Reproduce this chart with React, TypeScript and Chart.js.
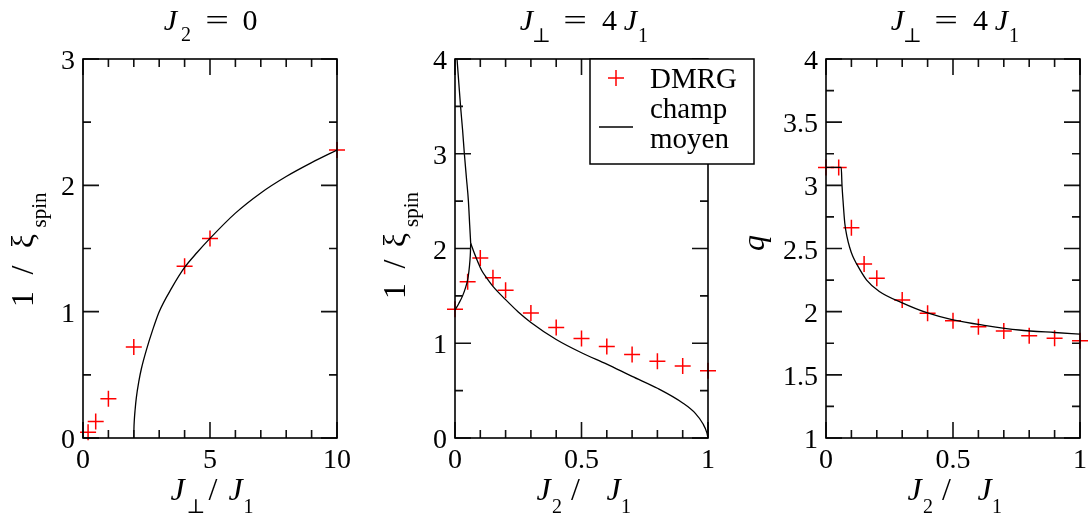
import React, { useEffect, useRef } from 'react';
import { Chart, registerables } from 'chart.js';

Chart.register(...registerables);

const SERIF = '"Liberation Serif", "DejaVu Serif", serif';

// ---------- Panel 1 : J2 = 0, 1/xi_spin vs J_perp/J1 ----------
const p1XTicks = [0, 5, 10];
const p1YTicks = [0, 1, 2, 3];
const p1DmrgX = [0.2, 0.5, 1, 2, 4, 5, 10];
const p1DmrgY = [0.045, 0.13, 0.31, 0.72, 1.36, 1.58, 2.28];
const p1MfX = [2, 2.005, 2.02, 2.05, 2.1, 2.2, 2.3, 2.5, 2.75, 3, 3.5, 4, 4.5, 5, 6, 7, 8, 9, 10];
const p1MfY = [0, 0.07, 0.14, 0.22, 0.32, 0.45, 0.55, 0.7, 0.86, 1.0, 1.19, 1.35, 1.47, 1.58, 1.78, 1.94, 2.07, 2.18, 2.28];

// ---------- Panel 2 : J_perp = 4 J1, 1/xi_spin vs J2/J1 ----------
const p2XTicks = [0, 0.5, 1];
const p2YTicks = [0, 1, 2, 3, 4];
const p2DmrgX = [0, 0.05, 0.1, 0.15, 0.2, 0.3, 0.4, 0.5, 0.6, 0.7, 0.8, 0.9, 1];
const p2DmrgY = [1.36, 1.65, 1.9, 1.69, 1.56, 1.32, 1.165, 1.05, 0.965, 0.88, 0.81, 0.76, 0.71];
const p2MfUpperX = [0.008, 0.015, 0.022, 0.03, 0.037, 0.045, 0.053, 0.058, 0.062];
const p2MfUpperY = [4, 3.75, 3.5, 3.25, 3.0, 2.75, 2.5, 2.25, 2.055];
const p2MfLeftX = [0, 0.015, 0.03, 0.042, 0.05, 0.055, 0.059, 0.061, 0.062];
const p2MfLeftY = [1.35, 1.42, 1.5, 1.59, 1.67, 1.76, 1.87, 1.96, 2.055];
const p2MfRightX = [0.062, 0.075, 0.09, 0.105, 0.125, 0.15, 0.2, 0.25, 0.3, 0.4, 0.5, 0.6, 0.7, 0.8, 0.9, 0.95, 0.98, 0.995, 1];
const p2MfRightY = [2.055, 1.96, 1.86, 1.77, 1.69, 1.6, 1.46, 1.33, 1.22, 1.04, 0.9, 0.78, 0.65, 0.525, 0.37, 0.26, 0.15, 0.06, 0];

// ---------- Panel 3 : J_perp = 4 J1, q vs J2/J1 ----------
const p3XTicks = [0, 0.5, 1];
const p3YTicks = [1, 1.5, 2, 2.5, 3, 3.5, 4];
const p3DmrgX = [0, 0.05, 0.1, 0.15, 0.2, 0.3, 0.4, 0.5, 0.6, 0.7, 0.8, 0.9, 1];
const p3DmrgY = [3.1416, 3.1416, 2.665, 2.377, 2.264, 2.092, 1.987, 1.929, 1.881, 1.847, 1.81, 1.789, 1.77];
const p3MfX = [0, 0.06, 0.063, 0.067, 0.074, 0.083, 0.093, 0.105, 0.12, 0.16, 0.21, 0.3, 0.4, 0.5, 0.63, 0.76, 0.9, 1];
const p3MfY = [3.1416, 3.1416, 3.0, 2.88, 2.7, 2.59, 2.51, 2.44, 2.38, 2.25, 2.16, 2.07, 1.99, 1.935, 1.89, 1.855, 1.835, 1.823];

const legendLabels = ['DMRG', 'champ', 'moyen'];

type Part = { t: string; x: number; y: number; size: number; it?: boolean; rot?: boolean; sx?: number };

type PanelCfg = {
  left: number; width: number; plotL: number; plotR: number;
  xMin: number; xMax: number; yMin: number; yMax: number;
  xTicks: number[]; yTicks: number[]; xMinor: number; yMinor: number;
  dmrgX: number[]; dmrgY: number[]; mf: [number[], number[]][];
  texts: Part[]; legend?: boolean;
};

const TOP = 59;
const BOTTOM = 438;
const H = 519;
const TS = 30; // title size
const AS = 32; // axis label size
const SS = 20; // subscript size
const TICK = 28; // tick label size

const panels: PanelCfg[] = [
  {
    left: 0, width: 355, plotL: 83, plotR: 337,
    xMin: 0, xMax: 10, yMin: 0, yMax: 3, xTicks: p1XTicks, yTicks: p1YTicks, xMinor: 1, yMinor: 0.5,
    dmrgX: p1DmrgX, dmrgY: p1DmrgY, mf: [[p1MfX, p1MfY]],
    texts: [
      { t: 'J', x: 170.5, y: 30, size: TS, it: true },
      { t: '2', x: 186, y: 41, size: SS },
      { t: '=', x: 217, y: 30, size: TS, sx: 1.4 },
      { t: '0', x: 250, y: 30, size: TS },
      { t: 'J', x: 177.5, y: 500, size: AS, it: true },
      { t: '⊥', x: 196, y: 513, size: SS },
      { t: '/', x: 213, y: 500, size: AS },
      { t: 'J', x: 235.5, y: 500, size: AS, it: true },
      { t: '1', x: 248.5, y: 513, size: SS },
      { t: '1', x: 33, y: 299, size: AS, rot: true },
      { t: '/', x: 33, y: 270, size: AS, rot: true },
      { t: 'ξ', x: 33, y: 241, size: AS, rot: true },
      { t: 'spin', x: 46, y: 210, size: 21, rot: true },
    ],
  },
  {
    left: 355, width: 405, plotL: 455, plotR: 708,
    xMin: 0, xMax: 1, yMin: 0, yMax: 4, xTicks: p2XTicks, yTicks: p2YTicks, xMinor: 0.1, yMinor: 0.5,
    dmrgX: p2DmrgX, dmrgY: p2DmrgY,
    mf: [[p2MfUpperX, p2MfUpperY], [p2MfLeftX, p2MfLeftY], [p2MfRightX, p2MfRightY]],
    legend: true,
    texts: [
      { t: 'J', x: 526.5, y: 30, size: TS, it: true },
      { t: '⊥', x: 541.5, y: 42, size: SS },
      { t: '=', x: 575, y: 30, size: TS, sx: 1.4 },
      { t: '4', x: 609.5, y: 30, size: TS },
      { t: 'J', x: 630.5, y: 30, size: TS, it: true },
      { t: '1', x: 643, y: 42, size: SS },
      { t: 'J', x: 543.5, y: 500, size: AS, it: true },
      { t: '2', x: 557, y: 513, size: SS },
      { t: '/', x: 575.5, y: 500, size: AS },
      { t: 'J', x: 613.5, y: 500, size: AS, it: true },
      { t: '1', x: 626, y: 513, size: SS },
      { t: '1', x: 405, y: 291, size: AS, rot: true },
      { t: '/', x: 405, y: 264, size: AS, rot: true },
      { t: 'ξ', x: 405, y: 240, size: AS, rot: true },
      { t: 'spin', x: 418, y: 209.5, size: 21, rot: true },
    ],
  },
  {
    left: 740, width: 351, plotL: 826, plotR: 1080,
    xMin: 0, xMax: 1, yMin: 1, yMax: 4, xTicks: p3XTicks, yTicks: p3YTicks, xMinor: 0.1, yMinor: 0.25,
    dmrgX: p3DmrgX, dmrgY: p3DmrgY, mf: [[p3MfX, p3MfY]],
    texts: [
      { t: 'J', x: 897.5, y: 30, size: TS, it: true },
      { t: '⊥', x: 912.5, y: 42, size: SS },
      { t: '=', x: 946, y: 30, size: TS, sx: 1.4 },
      { t: '4', x: 980.5, y: 30, size: TS },
      { t: 'J', x: 1001.5, y: 30, size: TS, it: true },
      { t: '1', x: 1014, y: 42, size: SS },
      { t: 'J', x: 914.5, y: 500, size: AS, it: true },
      { t: '2', x: 928, y: 513, size: SS },
      { t: '/', x: 946.5, y: 500, size: AS },
      { t: 'J', x: 984.5, y: 500, size: AS, it: true },
      { t: '1', x: 997, y: 513, size: SS },
      { t: 'q', x: 764, y: 243, size: AS, it: true, rot: true },
    ],
  },
];

function fmt(v: number): string {
  return String(Math.round(v * 1000) / 1000);
}

function decorPlugin(c: PanelCfg) {
  return {
    id: 'decor',
    afterDraw(chart: any) {
      const { ctx, chartArea: a, scales } = chart;
      const xs = scales.x;
      const ys = scales.y;
      ctx.save();
      ctx.strokeStyle = '#111';
      ctx.lineWidth = 1.6;
      ctx.beginPath();
      const nx = Math.round((c.xMax - c.xMin) / c.xMinor);
      for (let i = 0; i <= nx; i++) {
        const v = c.xMin + i * c.xMinor;
        const major = c.xTicks.some((t) => Math.abs(t - v) < 1e-6);
        const L = major ? 16 : 8;
        const px = xs.getPixelForValue(v);
        ctx.moveTo(px, a.bottom); ctx.lineTo(px, a.bottom - L);
        ctx.moveTo(px, a.top); ctx.lineTo(px, a.top + L);
      }
      const ny = Math.round((c.yMax - c.yMin) / c.yMinor);
      for (let i = 0; i <= ny; i++) {
        const v = c.yMin + i * c.yMinor;
        const major = c.yTicks.some((t) => Math.abs(t - v) < 1e-6);
        const L = major ? 16 : 8;
        const py = ys.getPixelForValue(v);
        ctx.moveTo(a.left, py); ctx.lineTo(a.left + L, py);
        ctx.moveTo(a.right, py); ctx.lineTo(a.right - L, py);
      }
      ctx.stroke();
      ctx.strokeStyle = '#000';
      ctx.strokeRect(a.left, a.top, a.right - a.left, a.bottom - a.top);

      // tick labels from the library's scales
      ctx.fillStyle = '#000';
      ctx.font = `${TICK}px ${SERIF}`;
      ctx.textBaseline = 'alphabetic';
      ctx.textAlign = 'center';
      for (const t of xs.ticks) {
        ctx.fillText(fmt(t.value), xs.getPixelForValue(t.value), a.bottom + 30);
      }
      ctx.textAlign = 'right';
      for (const t of ys.ticks) {
        ctx.fillText(fmt(t.value), a.left - 8, ys.getPixelForValue(t.value) + 10);
      }

      const off = c.left;
      if (c.legend) {
        const bx = 590 - off, by = 59, bw = 164, bh = 105;
        ctx.fillStyle = '#fff';
        ctx.fillRect(bx, by, bw, bh);
        ctx.strokeStyle = '#000';
        ctx.lineWidth = 1.5;
        ctx.strokeRect(bx, by, bw, bh);
        ctx.strokeStyle = '#ff0000';
        ctx.beginPath();
        const cx = 616 - off, cy = 78;
        ctx.moveTo(cx - 8, cy); ctx.lineTo(cx + 8, cy);
        ctx.moveTo(cx, cy - 8); ctx.lineTo(cx, cy + 8);
        ctx.stroke();
        ctx.strokeStyle = '#000';
        ctx.lineWidth = 1.3;
        ctx.beginPath();
        ctx.moveTo(599 - off, 127); ctx.lineTo(633 - off, 127);
        ctx.stroke();
        ctx.fillStyle = '#000';
        ctx.font = `29px ${SERIF}`;
        ctx.textAlign = 'left';
        ctx.textBaseline = 'alphabetic';
        ctx.fillText(legendLabels[0], 650 - off, 88);
        ctx.fillText(legendLabels[1], 650 - off, 117.5);
        ctx.fillText(legendLabels[2], 650 - off, 147.5);
      }

      ctx.fillStyle = '#000';
      ctx.textAlign = 'center';
      ctx.textBaseline = 'alphabetic';
      for (const p of c.texts) {
        ctx.font = `${p.it ? 'italic ' : ''}${p.size}px ${SERIF}`;
        ctx.save();
        ctx.translate(p.x - off, p.y);
        if (p.rot) ctx.rotate(-Math.PI / 2);
        if (p.sx) ctx.scale(p.sx, 1);
        ctx.fillText(p.t, 0, 0);
        ctx.restore();
      }
      ctx.restore();
    },
  };
}

function buildConfig(c: PanelCfg): any {
  const pts = (xs: number[], ys: number[]) => xs.map((x, i) => ({ x, y: ys[i] }));
  return {
    type: 'scatter',
    data: {
      datasets: [
        ...c.mf.map(([xs, ys]) => ({
          label: 'champ moyen',
          data: pts(xs, ys),
          showLine: true,
          borderColor: '#000',
          borderWidth: 1.3,
          pointRadius: 0,
          cubicInterpolationMode: 'monotone',
          fill: false,
        })),
        {
          label: 'DMRG',
          data: pts(c.dmrgX, c.dmrgY),
          showLine: false,
          pointStyle: 'cross',
          pointRadius: 8,
          pointBorderWidth: 1.5,
          pointBorderColor: '#ff0000',
          pointBackgroundColor: '#ff0000',
          clip: false,
        },
      ],
    },
    options: {
      animation: false,
      responsive: false,
      maintainAspectRatio: false,
      events: [],
      layout: { padding: { left: c.plotL - c.left - 40, right: c.left + c.width - c.plotR, top: TOP, bottom: H - BOTTOM - 40 } },
      plugins: { legend: { display: false }, tooltip: { enabled: false }, title: { display: false } },
      scales: {
        x: {
          type: 'linear', min: c.xMin, max: c.xMax,
          afterBuildTicks: (s: any) => { s.ticks = c.xTicks.map((v) => ({ value: v })); },
          afterFit: (s: any) => { s.height = 40; },
          grid: { display: false, drawTicks: false },
          border: { display: false },
          ticks: { display: false, autoSkip: false, maxRotation: 0 },
        },
        y: {
          type: 'linear', min: c.yMin, max: c.yMax,
          afterBuildTicks: (s: any) => { s.ticks = c.yTicks.map((v) => ({ value: v })); },
          afterFit: (s: any) => { s.width = 40; },
          grid: { display: false, drawTicks: false },
          border: { display: false },
          ticks: { display: false, autoSkip: false },
        },
      },
    },
    plugins: [decorPlugin(c)],
  };
}

function Panel({ cfg }: { cfg: PanelCfg }) {
  const ref = useRef<HTMLCanvasElement>(null);
  useEffect(() => {
    const chart = new Chart(ref.current as HTMLCanvasElement, buildConfig(cfg));
    return () => chart.destroy();
  }, [cfg]);
  return (
    <canvas
      ref={ref}
      width={cfg.width}
      height={H}
      style={{ position: 'absolute', left: cfg.left, top: 0, width: cfg.width, height: H }}
    />
  );
}

export default function App() {
  return (
    <div style={{ position: 'absolute', left: 0, top: 0, width: 1091, height: H, background: '#fff', overflow: 'hidden' }}>
      {panels.map((p, i) => (
        <Panel key={i} cfg={p} />
      ))}
    </div>
  );
}
